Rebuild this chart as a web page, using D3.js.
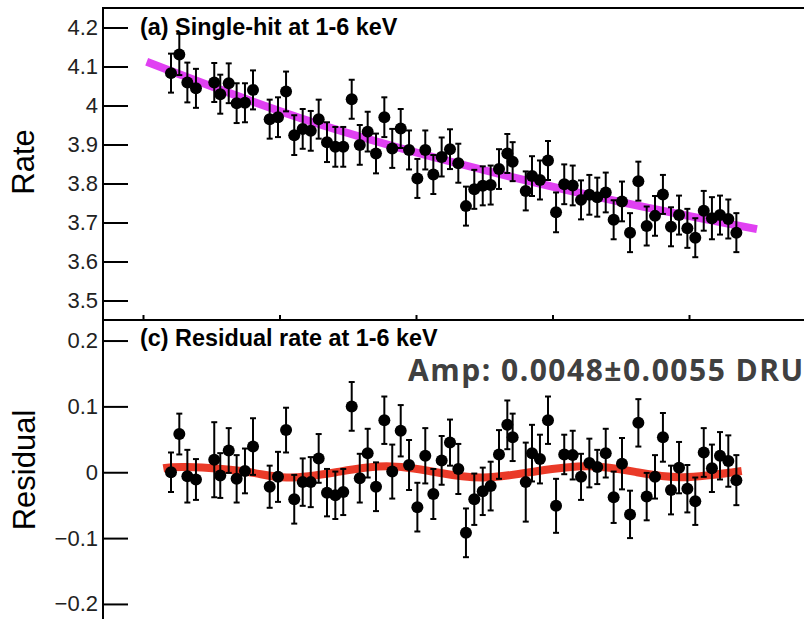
<!DOCTYPE html>
<html>
<head>
<meta charset="utf-8">
<script src="https://cdn.jsdelivr.net/npm/d3@7"></script>
<style>
  body { margin: 0; background: #fff; }
  svg { display: block; font-family: "Liberation Sans", Arial, sans-serif; }
</style>
</head>
<body>
<svg id="chart"></svg>
<script>
// time of each bin (days), same bins in both panels
var days = [20.5, 26.6, 32.5, 38.8, 52.2, 56.6, 62.8, 68.6, 74.7, 80.6,
  92.8, 98.9, 104.8, 110.8, 117.0, 122.9, 128.7, 134.8, 140.9, 146.7,
  152.9, 158.8, 164.6, 170.7, 176.8, 182.6, 188.8, 194.9, 201.0, 206.8,
  212.7, 218.8, 224.9, 231.0, 236.6, 242.7, 248.9, 254.7, 260.8, 266.9,
  270.8, 280.4, 285.0, 290.8, 296.7, 302.6, 308.6, 314.8, 320.9, 327.0,
  332.8, 339.0, 344.8, 350.9, 356.8, 362.9, 369.0, 375.1, 380.9, 386.8,
  392.7, 398.8, 404.6, 410.8, 416.8, 422.7, 428.8, 434.7];

// (a) single-hit rate
var rate = [4.083, 4.131, 4.059, 4.044, 4.059, 4.029, 4.057, 4.006, 4.007, 4.040,
  3.965, 3.970, 4.036, 3.924, 3.940, 3.935, 3.965, 3.906, 3.894, 3.894,
  4.016, 3.899, 3.933, 3.877, 3.970, 3.890, 3.941, 3.886, 3.813, 3.886,
  3.823, 3.868, 3.888, 3.852, 3.742, 3.785, 3.794, 3.796, 3.837, 3.877,
  3.856, 3.781, 3.819, 3.809, 3.859, 3.726, 3.798, 3.795, 3.758, 3.771,
  3.765, 3.777, 3.707, 3.754, 3.674, 3.806, 3.691, 3.717, 3.772, 3.689,
  3.719, 3.685, 3.661, 3.730, 3.711, 3.719, 3.709, 3.674];
var rateErr = [0.050, 0.053, 0.051, 0.050, 0.050, 0.050, 0.051, 0.051, 0.050, 0.050,
  0.050, 0.051, 0.051, 0.051, 0.051, 0.051, 0.050, 0.051, 0.051, 0.051,
  0.050, 0.051, 0.051, 0.051, 0.051, 0.050, 0.050, 0.050, 0.050, 0.050,
  0.050, 0.050, 0.051, 0.050, 0.050, 0.050, 0.050, 0.050, 0.051, 0.050,
  0.050, 0.050, 0.051, 0.050, 0.050, 0.051, 0.051, 0.051, 0.050, 0.051,
  0.050, 0.051, 0.050, 0.051, 0.050, 0.050, 0.050, 0.051, 0.050, 0.050,
  0.050, 0.050, 0.050, 0.051, 0.054, 0.050, 0.050, 0.050];

// (c) residual rate
var resid = [0.000, 0.058, -0.006, -0.011, 0.019, -0.005, 0.033, -0.010, 0.002, 0.039,
  -0.022, -0.007, 0.064, -0.041, -0.015, -0.015, 0.021, -0.031, -0.035, -0.030,
  0.100, -0.009, 0.029, -0.022, 0.079, 0.001, 0.063, 0.011, -0.053, 0.025,
  -0.033, 0.018, 0.045, 0.005, -0.092, -0.041, -0.029, -0.021, 0.027, 0.072,
  0.053, -0.015, 0.029, 0.020, 0.079, -0.051, 0.027, 0.026, -0.007, 0.014,
  0.008, 0.029, -0.038, 0.013, -0.064, 0.075, -0.037, -0.007, 0.053, -0.027,
  0.007, -0.025, -0.044, 0.030, 0.006, 0.025, 0.017, -0.012];
var residErr = [0.030, 0.031, 0.040, 0.031, 0.057, 0.034, 0.034, 0.036, 0.034, 0.043,
  0.032, 0.038, 0.034, 0.037, 0.036, 0.038, 0.037, 0.036, 0.036, 0.035,
  0.037, 0.037, 0.037, 0.037, 0.036, 0.041, 0.039, 0.038, 0.037, 0.042,
  0.038, 0.037, 0.035, 0.038, 0.037, 0.039, 0.036, 0.037, 0.037, 0.037,
  0.036, 0.060, 0.043, 0.037, 0.036, 0.041, 0.030, 0.037, 0.035, 0.037,
  0.026, 0.037, 0.039, 0.039, 0.036, 0.036, 0.036, 0.033, 0.037, 0.037,
  0.039, 0.036, 0.036, 0.037, 0.036, 0.036, 0.039, 0.038];

// fitted trend (magenta) and modulation fit (red)
var trendDays = [2.7, 115.0, 232.2, 349.5, 449.8];
var trendRate = [4.112, 3.968, 3.850, 3.753, 3.683];
var modDays = [14.9, 32.2, 73.5, 105.3, 141.4, 178.5, 214.7, 249.3, 288.4, 327.5, 361.9, 395.8, 438.6];
var modResid = [0.006, 0.008, 0.0015, -0.008, 0.000, 0.009, 0.000, -0.008, 0.0015, 0.009, 0.000, -0.0075, 0.002];

var rateTicks = [3.5, 3.6, 3.7, 3.8, 3.9, 4, 4.1, 4.2];
var rateTickLabels = ['3.5', '3.6', '3.7', '3.8', '3.9', '4', '4.1', '4.2'];
var residTicks = [-0.2, -0.1, 0, 0.1, 0.2];
var residTickLabels = ['\u22120.2', '\u22120.1', '0', '0.1', '0.2'];
var dayTicks = [0, 100, 200, 300, 400];

var titleA = '(a) Single-hit at 1-6 keV';
var titleC = '(c) Residual rate at 1-6 keV';
var ampText = 'Amp: 0.0048\u00b10.0055 DRU';

var W = 804, H = 619;
var left = 103, right = 808;
var topA = 8, botA = 320;
var topC = 320, botC = 626;

var svg = d3.select('#chart').attr('width', W).attr('height', H);

var x = d3.scaleLinear().domain([0, 400]).range([143, 689]);
var yA = d3.scaleLinear().domain([3.45, 4.25]).range([botA, topA]);
var yC = d3.scaleLinear().domain([-0.2335, 0.2312]).range([botC, topC]);

// clip paths for both pads
var defs = svg.append('defs');
defs.append('clipPath').attr('id', 'clipA').append('rect')
  .attr('x', left).attr('y', topA).attr('width', right - left).attr('height', botA - topA);
defs.append('clipPath').attr('id', 'clipC').append('rect')
  .attr('x', left).attr('y', topC).attr('width', right - left).attr('height', botC - topC);

function drawPad(y, yTop, yBot, clipId, vals, errs, ticks, tickLabels, fitX, fitY, fitColor, title, titleY, yLabel, yLabelPos) {
  var g = svg.append('g');

  // fit curve
  var line = d3.line()
    .x(function(d) { return x(d[0]); })
    .y(function(d) { return y(d[1]); })
    .curve(d3.curveNatural);
  g.append('path')
    .datum(fitX.map(function(d, i) { return [d, fitY[i]]; }))
    .attr('clip-path', 'url(#' + clipId + ')')
    .attr('d', line)
    .attr('fill', 'none')
    .attr('stroke', fitColor)
    .attr('stroke-width', 8);

  // error bars + markers
  var pts = g.append('g').attr('clip-path', 'url(#' + clipId + ')')
    .selectAll('g')
    .data(days.map(function(d, i) { return {t: d, v: vals[i], e: errs[i]}; }))
    .enter()
    .append('g');
  pts.append('line')
    .attr('x1', d => x(d.t)).attr('x2', d => x(d.t))
    .attr('y1', d => y(d.v - d.e)).attr('y2', d => y(d.v + d.e))
    .attr('stroke', '#000').attr('stroke-width', 2);
  [-1, 1].forEach(function(s) {
    pts.append('line')
      .attr('x1', d => x(d.t) - 3).attr('x2', d => x(d.t) + 3)
      .attr('y1', d => y(d.v + s * d.e)).attr('y2', d => y(d.v + s * d.e))
      .attr('stroke', '#000').attr('stroke-width', 2);
  });
  pts.append('circle')
    .attr('cx', d => x(d.t)).attr('cy', d => y(d.v))
    .attr('r', 6).attr('fill', '#000');

  // y axis, ticks pointing into the pad
  var yAxis = d3.axisLeft(y)
    .tickValues(ticks)
    .tickSizeInner(-25)
    .tickSizeOuter(0)
    .tickPadding(5)
    .tickFormat(function(d, i) { return tickLabels[i]; });
  var ax = g.append('g').attr('transform', 'translate(' + left + ',0)').call(yAxis);
  ax.select('.domain').remove();
  ax.selectAll('line').attr('stroke', '#000').attr('stroke-width', 2);
  ax.selectAll('text')
    .attr('font-family', '"Liberation Sans", Arial, sans-serif')
    .attr('font-size', 22)
    .attr('fill', '#222');

  // frame
  g.append('rect')
    .attr('x', left).attr('y', yTop)
    .attr('width', right - left).attr('height', yBot - yTop)
    .attr('fill', 'none').attr('stroke', '#000').attr('stroke-width', 2);

  g.append('text')
    .attr('x', 140).attr('y', titleY)
    .attr('font-weight', 'bold')
    .attr('font-size', 23.4)
    .attr('fill', '#000')
    .text(title);

  g.append('text')
    .attr('transform', 'translate(' + yLabelPos[0] + ',' + yLabelPos[1] + ') rotate(-90)')
    .attr('text-anchor', 'middle')
    .attr('font-size', 31)
    .attr('fill', '#000')
    .text(yLabel);
}

drawPad(yA, topA, botA, 'clipA', rate, rateErr, rateTicks, rateTickLabels,
  trendDays, trendRate, '#e040f2', titleA, 35, 'Rate', [34, 162]);
drawPad(yC, topC, botC, 'clipC', resid, residErr, residTicks, residTickLabels,
  modDays, modResid, '#ea3a28', titleC, 346, 'Residual', [35, 470]);

// time ticks on the shared edge
var xAxis = d3.axisBottom(x).tickValues(dayTicks).tickSizeInner(-5).tickSizeOuter(0).tickFormat('');
var xa = svg.append('g').attr('transform', 'translate(0,' + botA + ')').call(xAxis);
xa.select('.domain').remove();
xa.selectAll('line').attr('stroke', '#000').attr('stroke-width', 2);

// amplitude annotation
svg.append('text')
  .attr('x', 408).attr('y', 381)
  .attr('font-family', '"Open Sans", "Noto Sans", sans-serif')
  .attr('font-weight', 'bold')
  .attr('font-size', 30)
  .attr('letter-spacing', 1.5)
  .attr('fill', '#404040')
  .text(ampText);
</script>
</body>
</html>
